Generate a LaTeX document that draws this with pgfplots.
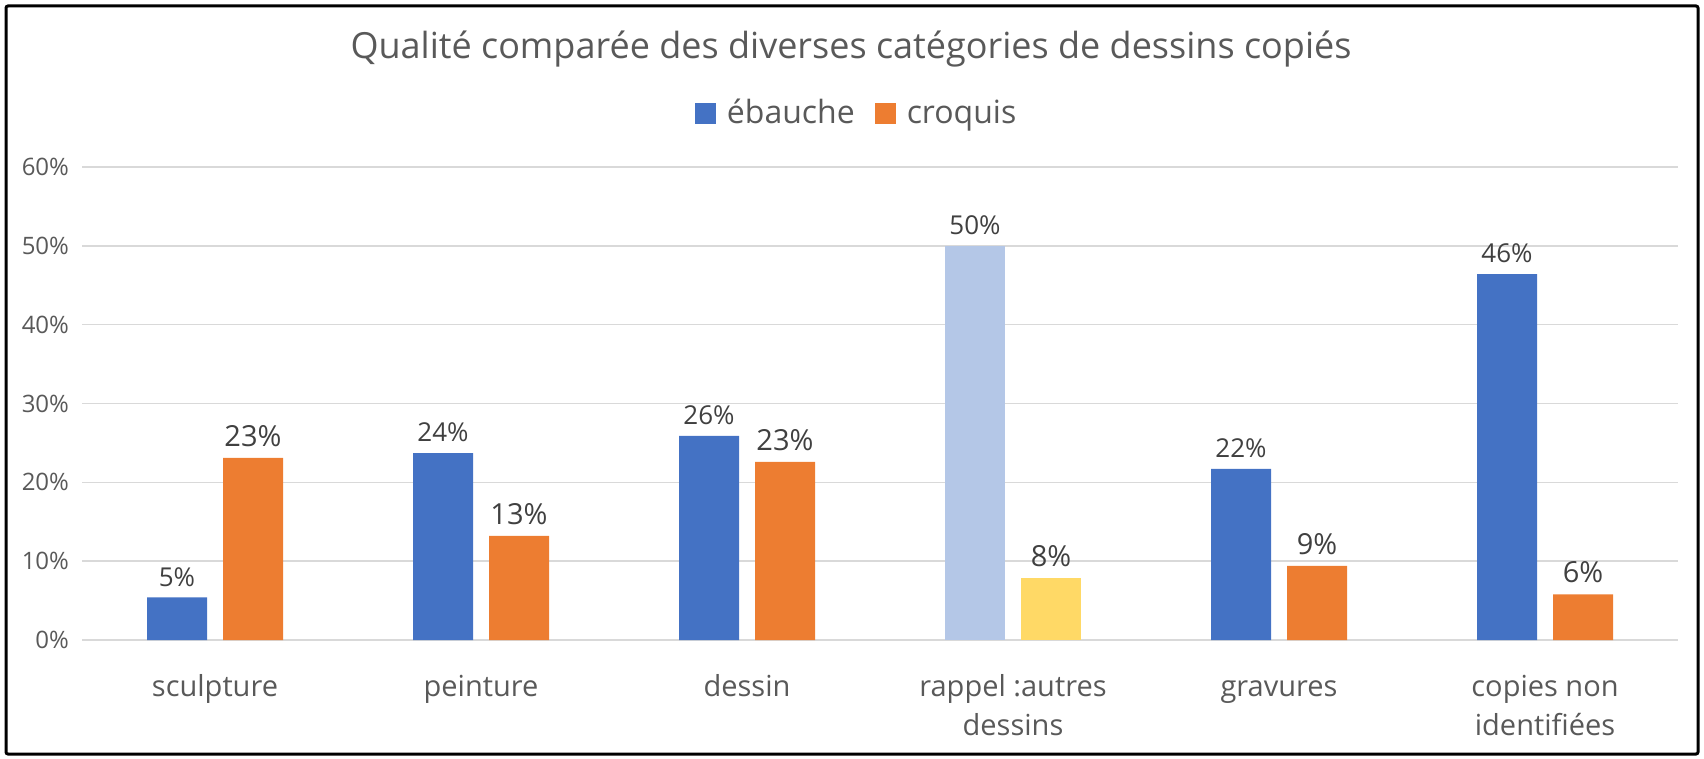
\documentclass[border=0pt]{standalone}
\usepackage{pgfplots}
\pgfplotsset{compat=1.18}
\usepackage{fontspec}
\setmainfont{Open Sans}

\definecolor{ebauche}{HTML}{4472C4}
\definecolor{croquis}{HTML}{ED7D31}
\definecolor{ebauchepale}{HTML}{B4C7E7}
\definecolor{croquisjaune}{HTML}{FFD966}
\definecolor{texte}{HTML}{595959}
\definecolor{valeur}{HTML}{404040}
\definecolor{grille}{HTML}{D9D9D9}

\begin{document}
\begin{tikzpicture}[x=1bp,y=1bp]
    \useasboundingbox (0,0) rectangle (852,379);
    \draw[line width=1.5bp, rounded corners=1bp] (3,2) rectangle (849,376);

    \node[anchor=base, text=texte, font=\fontsize{18bp}{22bp}\selectfont]
        at (425.5,350) {Qualité comparée des diverses catégories de dessins copiés};

    \begin{axis}[
            at={(41bp,59bp)}, anchor=south west,
            scale only axis,
            width=798bp, height=236.5bp,
            xmin=-0.5, xmax=5.5,
            ymin=0, ymax=60,
            ybar, bar width=30bp,
            axis line style={draw=none},
            ymajorgrids=true,
            grid style={grille, line width=0.75bp},
            major tick length=0pt,
            xtick={0,1,2,3,4,5},
            xticklabels={sculpture, peinture, dessin, {rappel :autres\\dessins}, gravures, {copies non\\identifiées}},
            typeset ticklabels with strut,
            xticklabel style={align=center, text=texte, font=\fontsize{14.5bp}{19.5bp}\selectfont, yshift=-11bp},
            ytick={0,10,20,30,40,50,60},
            yticklabel={\pgfmathprintnumber{\tick}\%},
            yticklabel style={text=texte, font=\fontsize{12bp}{14bp}\selectfont, xshift=-3bp},
            /pgf/number format/assume math mode=true,
            legend columns=2,
            legend style={at={(axis description cs:0.486,1.114)}, anchor=center, draw=none,
                font=\fontsize{16bp}{19bp}\selectfont, text=texte,
                /tikz/every odd column/.append style={column sep=3.5bp},
                /tikz/every even column/.append style={column sep=8bp}},
            legend image code/.code={\fill[#1] (0bp,-5.25bp) rectangle (10.5bp,5.25bp);},
            nodes near coords={\pgfmathprintnumber[fixed,precision=0]{\pgfplotspointmeta}\%},
            every node near coord/.append style={text=valeur, anchor=south, yshift=2bp},
        ]

        % ébauche
        \addplot[fill=ebauche, draw=none, bar shift=-19bp,
            every node near coord/.append style={font=\fontsize{13bp}{15bp}\selectfont}]
        coordinates {
                (0, 5.4)
                (1, 23.7)
                (2, 25.9)
                (4, 21.7)
                (5, 46.4)
            };
        \addlegendentry{ébauche}

        % croquis
        \addplot[fill=croquis, draw=none, bar shift=19bp,
            every node near coord/.append style={font=\fontsize{14.5bp}{17bp}\selectfont}]
        coordinates {
                (0, 23.1)
                (1, 13.2)
                (2, 22.6)
                (4, 9.4)
                (5, 5.8)
            };
        \addlegendentry{croquis}

        % rappel : autres dessins
        \addplot[fill=ebauchepale, draw=none, bar shift=-19bp, forget plot,
            every node near coord/.append style={font=\fontsize{13bp}{15bp}\selectfont}]
        coordinates {(3, 50.0)};
        \addplot[fill=croquisjaune, draw=none, bar shift=19bp, forget plot,
            every node near coord/.append style={font=\fontsize{14.5bp}{17bp}\selectfont}]
        coordinates {(3, 7.9)};

    \end{axis}
\end{tikzpicture}
\end{document}
